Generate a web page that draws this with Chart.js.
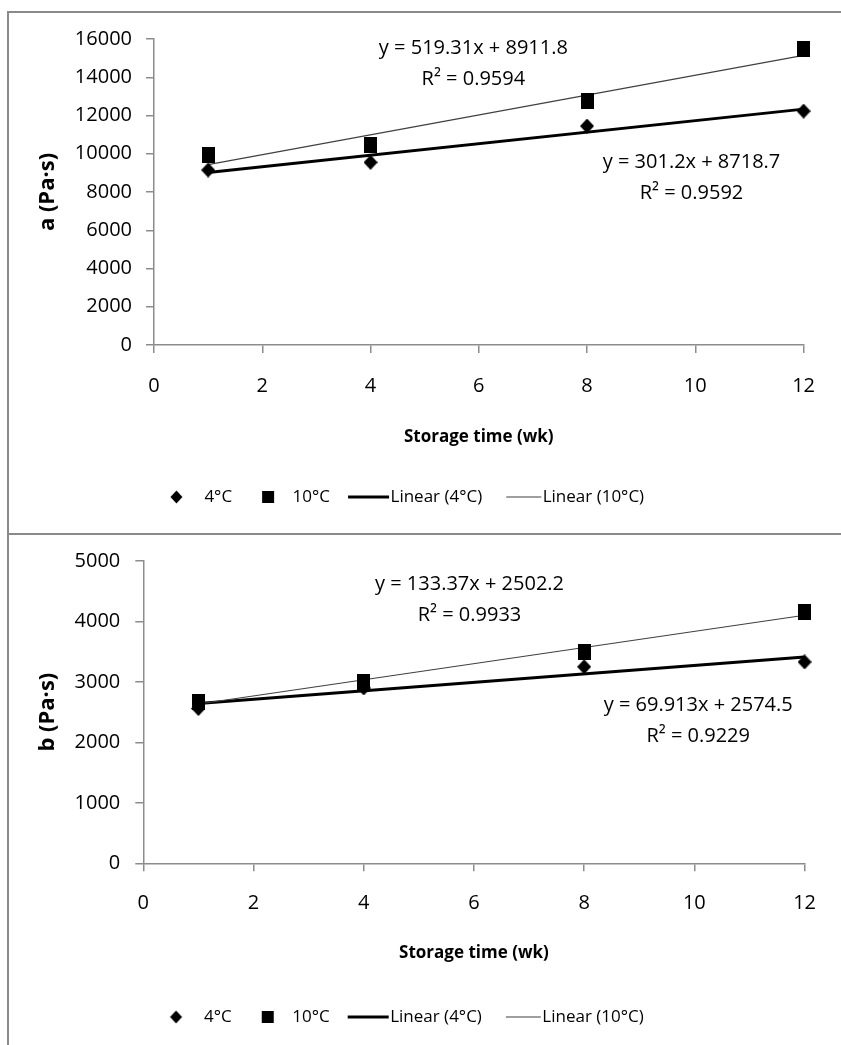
<!DOCTYPE html>
<html>
<head>
<meta charset="utf-8">
<script src="https://cdn.jsdelivr.net/npm/chart.js@4/dist/chart.umd.min.js"></script>
<style>
  html, body { margin: 0; padding: 0; background: #fff; }
  body { width: 841px; height: 1045px; position: relative; overflow: hidden; }
  canvas { position: absolute; }
  #chartA { left: -20px; top: 12px; }
  #chartB { left: -20px; top: 534px; }
  .rule { position: absolute; background: #8a8a8a; }
</style>
</head>
<body>
<div class="rule" style="left:7px;top:11px;width:2px;height:1034px"></div>
<div class="rule" style="left:7px;top:11px;width:834px;height:2px"></div>
<div class="rule" style="left:7px;top:533px;width:834px;height:2px"></div>
<canvas id="chartA" width="856" height="522"></canvas>
<canvas id="chartB" width="856" height="511"></canvas>
<script>
// Storage time (weeks) at which samples were measured
const weeks = [1, 4, 8, 12];
const seriesNames = ['4°C', '10°C'];
const xTicks = [0, 2, 4, 6, 8, 10, 12];

// Parameter a (Pa·s)
const aAt4C  = [9150, 9550, 11450, 12230];
const aAt10C = [9950, 10450, 12750, 15500];
const aSlope = [301.2, 519.31];
const aIntercept = [8718.7, 8911.8];
const aR2 = [0.9592, 0.9594];
const aTicks = [0, 2000, 4000, 6000, 8000, 10000, 12000, 14000, 16000];

// Parameter b (Pa·s)
const bAt4C  = [2560, 2900, 3250, 3330];
const bAt10C = [2670, 3000, 3500, 4150];
const bSlope = [69.913, 133.37];
const bIntercept = [2574.5, 2502.2];
const bR2 = [0.9229, 0.9933];
const bTicks = [0, 1000, 2000, 3000, 4000, 5000];

const FONT = "'Open Sans', 'Liberation Sans', sans-serif";
const TEXT = '#000';
const AXIS = '#8c8c8c';

// ---- marker and legend icons ----
function icon(w, h, draw) {
  const c = document.createElement('canvas');
  c.width = w; c.height = h;
  draw(c.getContext('2d'));
  return c;
}
function diamond(ctx, cx, cy, w, h) {
  ctx.fillStyle = '#000';
  ctx.beginPath();
  ctx.moveTo(cx, cy - h / 2); ctx.lineTo(cx + w / 2, cy);
  ctx.lineTo(cx, cy + h / 2); ctx.lineTo(cx - w / 2, cy);
  ctx.closePath(); ctx.fill();
}
const diamondMark = icon(14, 15, ctx => diamond(ctx, 7, 7.5, 14, 15));
const squareMark = icon(13, 16, ctx => { ctx.fillStyle = '#000'; ctx.fillRect(0, 0, 13, 16); });

const legendIcons = [
  icon(60, 20, ctx => diamond(ctx, 32.5, 10, 12, 13)),
  icon(60, 20, ctx => { ctx.fillStyle = '#000'; ctx.fillRect(30, 4, 12, 12); }),
  icon(60, 20, ctx => { ctx.fillStyle = '#000'; ctx.fillRect(18, 8.5, 41, 3); }),
  icon(60, 20, ctx => { ctx.fillStyle = '#404040'; ctx.fillRect(24, 9.5, 35, 1); })
];
const legendTexts = [...seriesNames, ...seriesNames.map(n => `Linear (${n})`)];

// ---- regression equation labels ----
const equationText = {
  id: 'equationText',
  afterDatasetsDraw(chart, args, opts) {
    const { ctx, scales: { x, y } } = chart;
    ctx.save();
    ctx.font = `${opts.size}px ${FONT}`;
    ctx.fillStyle = TEXT;
    ctx.textAlign = 'center';
    ctx.textBaseline = 'middle';
    opts.items.forEach(it => {
      const px = x.getPixelForValue(it.at[0]);
      const py = y.getPixelForValue(it.at[1]);
      it.lines.forEach((t, k) => ctx.fillText(t, px, py + k * opts.gap));
    });
    ctx.restore();
  }
};

function equationLines(slope, intercept, r2) {
  return [`y = ${slope}x + ${intercept}`, `R² = ${r2}`];
}

function trend(slope, intercept) {
  const x0 = weeks[0], x1 = weeks[weeks.length - 1];
  return [{ x: x0, y: slope * x0 + intercept }, { x: x1, y: slope * x1 + intercept }];
}

function points(values) {
  return weeks.map((w, i) => ({ x: w, y: values[i] }));
}

function buildChart(canvasId, cfg) {
  return new Chart(document.getElementById(canvasId), {
    type: 'scatter',
    data: {
      datasets: [
        { label: seriesNames[0], data: points(cfg.s4), pointStyle: diamondMark, pointRadius: 7, order: 0, clip: false },
        { label: seriesNames[1], data: points(cfg.s10), pointStyle: squareMark, pointRadius: 7, order: 1, clip: false },
        { label: legendTexts[2], data: trend(cfg.slope[0], cfg.intercept[0]), showLine: true,
          borderColor: '#000', borderWidth: 3, pointRadius: 0, order: 3, clip: false },
        { label: legendTexts[3], data: trend(cfg.slope[1], cfg.intercept[1]), showLine: true,
          borderColor: '#404040', borderWidth: 1.1, pointRadius: 0, order: 2, clip: false }
      ]
    },
    options: {
      responsive: false,
      animation: false,
      layout: { padding: cfg.padding },
      scales: {
        x: {
          type: 'linear', min: xTicks[0], max: xTicks[xTicks.length - 1],
          afterBuildTicks: s => { s.ticks = xTicks.map(v => ({ value: v })); },
          ticks: { color: TEXT, font: { family: FONT, size: 20 }, padding: cfg.xTickPad, autoSkip: false },
          grid: { drawOnChartArea: false, tickLength: 8, color: AXIS, lineWidth: 1.5 },
          border: { color: AXIS, width: 1.5 },
          title: { display: true, text: 'Storage time (wk)', color: TEXT,
                   font: { family: FONT, size: 17, weight: 'bold' }, padding: { top: 0, bottom: cfg.xTitlePad } },
          afterFit: s => { s.height = cfg.xHeight; }
        },
        y: {
          type: 'linear', min: cfg.ticks[0], max: cfg.ticks[cfg.ticks.length - 1],
          afterBuildTicks: s => { s.ticks = cfg.ticks.map(v => ({ value: v })); },
          ticks: { color: TEXT, font: { family: FONT, size: 20 }, padding: cfg.yTickPad, callback: v => String(v) },
          grid: { drawOnChartArea: false, tickLength: 8, color: AXIS, lineWidth: 1.5 },
          border: { color: AXIS, width: 1.5 },
          title: { display: true, text: cfg.yTitle, color: TEXT,
                   font: { family: FONT, size: 22, weight: 'bold' }, padding: { top: 54.8, bottom: 0 } },
          afterFit: s => { s.width = cfg.yWidth; }
        }
      },
      plugins: {
        tooltip: { enabled: false },
        legend: {
          position: 'bottom',
          labels: {
            usePointStyle: true, pointStyleWidth: 44, padding: 8,
            color: TEXT, font: { family: FONT, size: 17 },
            generateLabels: () => legendIcons.map((ic, i) => ({
              text: legendTexts[i], pointStyle: ic, fillStyle: '#000', strokeStyle: '#000',
              lineWidth: 0, hidden: false, datasetIndex: i, fontColor: TEXT
            }))
          }
        },
        equationText: {
          size: 20, gap: 31,
          items: [
            { at: cfg.eqAt[1], lines: equationLines(cfg.slope[1], cfg.intercept[1], cfg.r2[1]) },
            { at: cfg.eqAt[0], lines: equationLines(cfg.slope[0], cfg.intercept[0], cfg.r2[0]) }
          ]
        }
      }
    },
    plugins: [equationText]
  });
}

buildChart('chartA', {
  s4: aAt4C, s10: aAt10C, slope: aSlope, intercept: aIntercept, r2: aR2, ticks: aTicks,
  yTitle: 'a (Pa·s)',
  padding: { left: 0, right: 20, top: 27, bottom: 18.5 },
  xHeight: 135.5, xTitlePad: 33.3, xTickPad: 21, yTickPad: 14, yWidth: 174,
  eqAt: [[9.93, 9569], [5.9, 15530]]
});

buildChart('chartB', {
  s4: bAt4C, s10: bAt10C, slope: bSlope, intercept: bIntercept, r2: bR2, ticks: bTicks,
  yTitle: 'b (Pa·s)',
  padding: { left: 0, right: 20.7, top: 26, bottom: 9.5 },
  xHeight: 137.2, xTitlePad: 37.3, xTickPad: 20, yTickPad: 15, yWidth: 163.3,
  eqAt: [[10.07, 2612], [5.92, 4609]]
});
</script>
</body>
</html>
